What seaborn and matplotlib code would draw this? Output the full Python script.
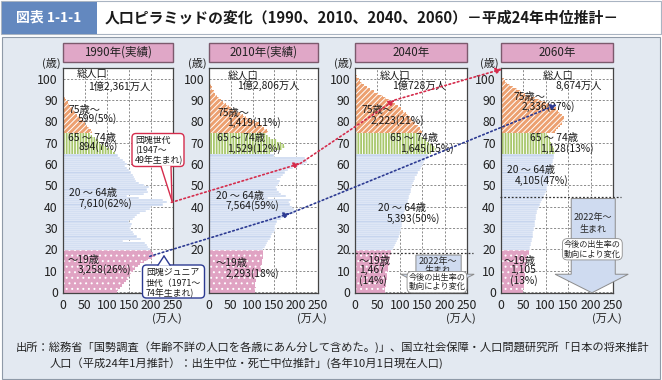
import matplotlib
matplotlib.use('Agg')
import matplotlib.pyplot as plt
import numpy as np
import pandas as pd
import seaborn as sns
from matplotlib.patches import Rectangle, FancyBboxPatch, Polygon, ConnectionPatch

sns.set_theme(style='white')
plt.rcParams['font.family'] = ['Noto Sans CJK JP', 'DejaVu Sans']
plt.rcParams['hatch.linewidth'] = 0.7
plt.rcParams['axes.unicode_minus'] = False

# ---------------- data (万人, by single year of age 0..104) ----------------
ages = list(range(105))

pop1990 = [122, 125, 130, 134, 138, 143, 148, 150, 152, 154,
           158, 164, 170, 176, 184, 192, 203, 209, 205, 200,
           198, 194, 190, 186, 136, 178, 168, 162, 158, 154,
           152, 154, 156, 150, 158, 164, 168, 176, 188, 198,
           200, 228, 235, 228, 172, 145, 185, 192, 190, 195,
           185, 172, 166, 164, 162, 160, 154, 150, 145, 140,
           145, 140, 136, 130, 124,
           118, 112, 106, 99, 93, 85, 79, 73, 67, 62,
           66, 63, 59, 55, 51, 46, 42, 38, 33, 29,
           25, 21, 17, 14, 11, 8, 6, 4, 3, 2,
           1.2, 0.7, 0.4, 0.2, 0.1]

pop2010 = [106, 106, 107, 105, 106, 107, 108, 109, 110, 113,
           119, 120, 120, 121, 122, 122, 123, 123, 124, 123,
           124, 128, 131, 133, 136, 139, 142, 145, 149, 152,
           152, 152, 153, 157, 164, 172, 182, 194, 200, 196,
           190, 186, 184, 189, 136, 177, 166, 160, 156, 154,
           158, 161, 163, 157, 165, 170, 174, 182, 193, 205,
           218, 225, 224, 220, 150,
           140, 150, 168, 175, 172, 165, 155, 140, 135, 130,
           136, 132, 127, 122, 116, 103, 95, 86, 78, 70,
           61, 53, 46, 39, 32, 28, 23, 18, 14, 11,
           8, 6, 4, 3, 2, 1.5, 1, 0.6, 0.4, 0.2][:105]

pop2040 = [67, 68, 68, 69, 70, 70, 71, 71, 72, 72,
           74, 74, 75, 75, 76, 77, 78, 79, 80, 81,
           85, 87, 89, 92, 94, 96, 98, 100, 101, 102,
           103, 104, 105, 106, 107, 108, 109, 110, 112, 114,
           116, 117, 118, 119, 120, 121, 122, 124, 126, 128,
           127, 129, 131, 133, 135, 138, 141, 144, 147, 149,
           152, 154, 156, 160, 164,
           170, 176, 180, 178, 174, 166, 158, 152, 148, 143,
           150, 148, 145, 140, 135, 130, 126, 122, 118, 113,
           107, 102, 96, 90, 84, 78, 70, 62, 52, 42,
           33, 26, 20, 15, 11, 8, 5, 3, 2, 1]

pop2060 = [50, 50, 51, 51, 52, 52, 53, 53, 54, 54,
           55, 56, 56, 57, 58, 58, 59, 61, 62, 63,
           65, 66, 67, 68, 69, 70, 71, 72, 73, 74,
           75, 76, 77, 77, 78, 79, 79, 80, 81, 82,
           85, 87, 89, 91, 94, 96, 98, 100, 102, 104,
           105, 106, 107, 108, 109, 110, 111, 112, 113, 114,
           115, 116, 117, 118, 119,
           120, 119, 118, 116, 114, 112, 110, 109, 106, 104,
           120, 124, 128, 132, 136, 139, 141, 140, 137, 133,
           128, 122, 115, 107, 98, 88, 77, 66, 55, 45,
           36, 28, 21, 15, 10, 7, 4, 2.5, 1.5, 1]

years = [1990, 2010, 2040, 2060]
pops = [pop1990, pop2010, pop2040, pop2060]
panel_titles = ['1990年(実績)', '2010年(実績)', '2040年', '2060年']
group_names = ['〜19歳', '20〜64歳', '65〜74歳', '75歳〜']
group_colors = ['#e0a3c3', '#c7d5ee', '#a8c76c', '#eca070']
group_hatches = ['...', None, '||||||', '//////']
total_labels = ['1億2,361万人', '1億2,806万人', '1億728万人', '8,674万人']
values_labels = {
    1990: ['3,258(26%)', '7,610(62%)', '894(7%)', '599(5%)'],
    2010: ['2,293(18%)', '7,564(59%)', '1,529(12%)', '1,419(11%)'],
    2040: ['1,467\n(14%)', '5,393(50%)', '1,645(15%)', '2,223(21%)'],
    2060: ['1,105\n(13%)', '4,105(47%)', '1,128(13%)', '2,336(27%)'],
}
xticks = [0, 50, 100, 150, 200, 250]
yticks = list(range(0, 101, 10))


def group_of(a):
    if a <= 19:
        return group_names[0]
    if a <= 64:
        return group_names[1]
    if a <= 74:
        return group_names[2]
    return group_names[3]


rows = []
for y, p in zip(years, pops):
    for a, v in zip(ages, p):
        rows.append((y, a, v, group_of(a)))
df = pd.DataFrame(rows, columns=['year', 'age', 'pop', 'group'])

# ---------------- layout (pixel based) ----------------
W, H = 662, 380
fig = plt.figure(figsize=(W / 100, H / 100), dpi=100)
fig.patch.set_facecolor('white')


def frac(x0, y0, w, h):
    return [x0 / W, 1 - (y0 + h) / H, w / W, h / H]


lefts = [62.7, 209.0, 355.0, 500.7]
widths = [110.5, 109.0, 112.0, 112.3]
top, height = 68.0, 225.0

# background / frame
bg = fig.add_axes([0, 0, 1, 1], zorder=-5)
bg.set_xlim(0, W)
bg.set_ylim(H, 0)
bg.axis('off')
bg.add_patch(Rectangle((1, 1), 660, 33, fc='white', ec='#a9b4c2', lw=0.8))
bg.add_patch(Rectangle((1.5, 1.5), 95, 32, fc='#6388bf', ec='none'))
bg.text(48.5, 18, '図表 1-1-1', color='white', fontsize=10, fontweight='bold',
        ha='center', va='center')
bg.text(105, 18, '人口ピラミッドの変化（1990、2010、2040、2060）－平成24年中位推計－',
        fontsize=10.7, fontweight='bold', ha='left', va='center', color='#1a1a1a')
bg.add_patch(Rectangle((2, 37), 658, 341.5, fc='#e3e9f1', ec='#8f9aa8', lw=0.8))
bg.text(16, 347, '出所：総務省「国勢調査（年齢不詳の人口を各歳にあん分して含めた。)」、国立社会保障・人口問題研究所「日本の将来推計',
        fontsize=8.1, ha='left', va='center', color='#222222')
bg.text(50, 363, '人口（平成24年1月推計）：出生中位・死亡中位推計」(各年10月1日現在人口)',
        fontsize=8.1, ha='left', va='center', color='#222222')

label_pos = {
    1990: [(32, 102), (57, 96.5), (12, 14.8), (35, 10.6), (14, 46.2), (35, 41.5),
           (12, 72.4), (35, 68.2), (12, 85.5), (35, 81.3)],
    2010: [(44, 101.4), (64, 96.7), (16, 13.5), (37, 8.7), (16, 45.2), (37, 40.6),
           (19, 72.0), (41, 67.2), (19, 84.0), (41, 79.6)],
    2040: [(56, 101.4), (82, 96.4), (9, 14.4), (9, 7.6), (51, 39.2), (71, 34.5),
           (78, 72.0), (100, 67.2), (15, 85.1), (34, 80.4)],
    2060: [(94, 101.2), (121, 96.4), (7, 14.4), (20, 7.6), (13, 57.0), (32, 52.3),
           (65, 72.0), (87, 67.2), (28, 91.3), (47, 86.7)],
}
grp_text = ['〜19歳', '20 〜 64歳', '65 〜 74歳', '75歳〜']

axes = []
for i, (yr, ttl) in enumerate(zip(years, panel_titles)):
    ax = fig.add_axes(frac(lefts[i], top, widths[i], height))
    axes.append(ax)
    d = df[df['year'] == yr]
    sns.barplot(data=d, x='pop', y='age', hue='group', hue_order=group_names,
                palette=group_colors, orient='y', native_scale=True, dodge=False,
                width=1.0, errorbar=None, saturation=1, legend=False,
                edgecolor='white', linewidth=0, ax=ax)
    for k, cont in enumerate(ax.containers):
        for p in cont:
            p.set_edgecolor('white')
            if group_hatches[k]:
                p.set_hatch(group_hatches[k])
                p.set_linewidth(0)
            else:
                p.set_linewidth(0.35)
    ax.set_facecolor('white')
    ax.set_xlim(0, 250)
    ax.set_ylim(-0.5, 105)
    ax.set_xticks(xticks)
    ax.set_yticks(yticks)
    if i == 1:
        # the lower two age labels of this panel sit under the 団塊ジュニア callout
        ax.set_yticklabels(['', ''] + [str(t) for t in yticks[2:]])
    ax.set_xlabel('')
    ax.set_ylabel('')
    ax.grid(True, color='#7a7a7a', linestyle=(0, (2.5, 2)), linewidth=0.6)
    ax.set_axisbelow(True)
    ax.tick_params(axis='both', length=0, labelsize=8.8, colors='#222222')
    ax.tick_params(axis='x', pad=4.5)
    ax.tick_params(axis='y', pad=3.5)
    for s in ax.spines.values():
        s.set_visible(True)
        s.set_color('#444444')
        s.set_linewidth(0.9)
    # panel title box
    ax.add_patch(Rectangle((0, 1.027), 1, 0.084, transform=ax.transAxes, clip_on=False,
                           fc='#e0a7c7', ec='#7c5a6d', lw=1.0))
    ax.text(0.5, 1.069, ttl, transform=ax.transAxes, ha='center', va='center',
            fontsize=8.3, color='#222222')
    ax.text(-0.02, 1.02, '(歳)', transform=ax.transAxes, ha='right', va='center',
            fontsize=8, color='#222222')
    ax.text(0.945, -0.112, '(万人)', transform=ax.transAxes, ha='center', va='center',
            fontsize=8, color='#222222')
    # labels
    pos = label_pos[yr]
    texts = ['総人口', total_labels[i]]
    for g in range(4):
        texts += [grp_text[g], values_labels[yr][g]]
    for (tx, ty), t in zip(pos, texts):
        ax.text(tx, ty, t, ha='left', va='center', fontsize=7.4, color='#1a1a1a',
                linespacing=1.0, zorder=5)

ax1, ax2, ax3, ax4 = axes

# ---------------- 2022年〜生まれ shapes ----------------
for ax, line_y, poly, t1, t2, tb in [
    (ax3, 18.3,
     [(136, 17.3), (237, 17.3), (237, 8.3), (266, 8.3), (183, -0.4), (102, 8.3), (136, 8.3)],
     (186, 14.4), (186, 10.6), (183, 4.6)),
    (ax4, 44.3,
     [(157, 43.8), (255, 43.8), (255, 8.3), (284, 8.3), (203, -0.4), (121, 8.3), (157, 8.3)],
     (206, 34.7), (206, 29.8), (204, 20.0)),
]:
    ax.add_patch(Polygon(poly, closed=True, fc='#cfdbf0', ec='#8c8c8c', lw=0.7,
                         clip_on=False, zorder=4))
    xr = (-16, 263) if ax is ax3 else (-2, 268)
    ax.plot(list(xr), [line_y, line_y], color='#333333', lw=0.9,
            linestyle=(0, (1.5, 1.5)), clip_on=False, zorder=4)
    ax.text(*t1, '2022年〜', ha='center', va='center', fontsize=6.5, zorder=6)
    ax.text(*t2, '生まれ', ha='center', va='center', fontsize=6.5, zorder=6)
    ax.text(*tb, '今後の出生率の\n動向により変化', ha='center', va='center', fontsize=5.9,
            linespacing=1.05, zorder=6,
            bbox=dict(boxstyle='round,pad=0.18,rounding_size=0.6', fc='white',
                      ec='#8c8c8c', lw=0.6))

# ---------------- cohort arrows ----------------
red = '#d52c4c'
navy = '#2c3a92'


def link(axA, pA, axB, pB, color):
    cp = ConnectionPatch(xyA=pA, coordsA='data', axesA=axA, xyB=pB, coordsB='data',
                         axesB=axB, arrowstyle='-|>', mutation_scale=9, shrinkA=0,
                         shrinkB=0, color=color, lw=1.2, linestyle=(0, (1, 1.6)),
                         zorder=3, clip_on=False)
    fig.add_artist(cp)


link(ax1, (246, 42), ax2, (209, 60.2), red)
link(ax2, (209, 60.2), ax3, (89, 90), red)
link(ax3, (89, 90), ax4, (3, 104.5), red)
link(ax1, (197, 16.7), ax2, (186, 36.8), navy)
link(ax2, (186, 36.8), ax4, (125, 87.8), navy)

# ---------------- callouts (pixel overlay) ----------------
ov = fig.add_axes([0, 0, 1, 1], zorder=6)
ov.set_xlim(0, W)
ov.set_ylim(H, 0)
ov.axis('off')

ov.add_patch(FancyBboxPatch((132, 133.5), 52, 33, boxstyle='round,pad=0,rounding_size=4',
                            fc='white', ec=red, lw=1.0))
ov.add_patch(Polygon([(161, 165.8), (171, 165.8), (172, 201)], closed=True, fc='white', ec='none'))
ov.plot([161, 172], [166.4, 201], color=red, lw=1.0)
ov.plot([171, 172], [166.4, 201], color=red, lw=1.0)
for ty, t in zip([140.5, 150.5, 160.5], ['団塊世代', '(1947〜', '49年生まれ)']):
    ov.text(135, ty, t, ha='left', va='center', fontsize=6.4, color='#1a1a1a')

ov.add_patch(FancyBboxPatch((142.5, 265), 62, 33, boxstyle='round,pad=0,rounding_size=4',
                            fc='white', ec=navy, lw=1.0))
ov.add_patch(Polygon([(158, 265.7), (170, 265.7), (164, 256)], closed=True, fc='white', ec='none'))
ov.plot([158, 164], [265.2, 256], color=navy, lw=1.0)
ov.plot([170, 164], [265.2, 256], color=navy, lw=1.0)
for ty, t in zip([272.5, 283, 293], ['団塊ジュニア', '世代（1971〜', '74年生まれ)']):
    ov.text(146, ty, t, ha='left', va='center', fontsize=6.4, color='#1a1a1a')

fig.savefig('out.png', dpi=100)
